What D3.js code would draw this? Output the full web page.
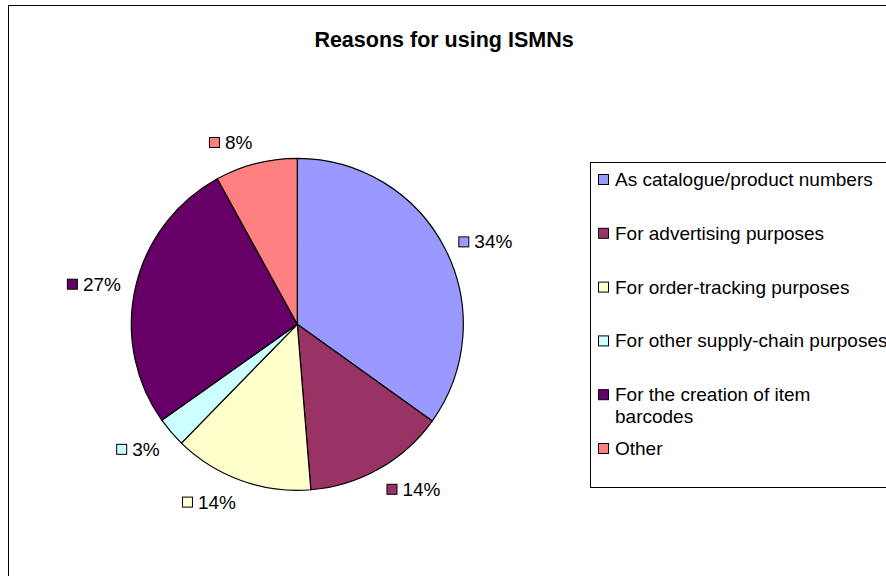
<!DOCTYPE html>
<html>
<head>
<meta charset="utf-8">
<script src="https://cdn.jsdelivr.net/npm/d3@7"></script>
<style>
  html, body { margin: 0; padding: 0; background: #fff; }
  svg { display: block; }
  text { font-family: "Liberation Sans", Arial, sans-serif; fill: #000; }
</style>
</head>
<body>
<svg id="chart" width="886" height="576"></svg>
<script>
// ---- data ----
const title = "Reasons for using ISMNs";
const categories = [
  "As catalogue/product numbers",
  "For advertising purposes",
  "For order-tracking purposes",
  "For other supply-chain purposes",
  "For the creation of item barcodes",
  "Other"
];
const legendLines = [
  ["As catalogue/product numbers"],
  ["For advertising purposes"],
  ["For order-tracking purposes"],
  ["For other supply-chain purposes"],
  ["For the creation of item", "barcodes"],
  ["Other"]
];
const values = [34.9, 13.8, 13.6, 2.9, 26.8, 8.0];
const percentLabels = ["34%", "14%", "14%", "3%", "27%", "8%"];
const colors = ["#9999FF", "#993366", "#FFFFCC", "#CCFFFF", "#660066", "#FF8080"];

// ---- layout ----
const W = 886, H = 576;
const cx = 297.3, cy = 324.3, R = 166;
const labelR = 181;
const fontSize = 19;

const svg = d3.select("#chart");
svg.append("rect").attr("width", W).attr("height", H).attr("fill", "#fff");

// outer chart border (extends beyond the visible area)
svg.append("rect")
  .attr("x", 8.5).attr("y", 5.5).attr("width", 1200).attr("height", 1200)
  .attr("fill", "none").attr("stroke", "#000").attr("stroke-width", 1);

// title
svg.append("text")
  .attr("x", 444).attr("y", 47)
  .attr("text-anchor", "middle")
  .style("font-size", "21.5px").style("font-weight", "bold")
  .text(title);

// pie
const pie = d3.pie().sort(null).value(d => d).startAngle(0).endAngle(2 * Math.PI);
const arcs = pie(values);
const arc = d3.arc().innerRadius(0).outerRadius(R);
const color = d3.scaleOrdinal().domain(categories).range(colors);

const g = svg.append("g").attr("transform", `translate(${cx},${cy})`);
g.selectAll("path.slice")
  .data(arcs)
  .join("path")
  .attr("class", "slice")
  .attr("d", arc)
  .attr("fill", (d, i) => color(categories[i]))
  .attr("stroke", "#000")
  .attr("stroke-width", 1.2)
  .attr("stroke-linejoin", "round");

// data labels (marker + percent)
const clamp = (v, a, b) => Math.max(a, Math.min(b, v));
const markerSize = 10, gap = 6;
arcs.forEach((d, i) => {
  const mid = (d.startAngle + d.endAngle) / 2;
  const s = Math.sin(mid), c = Math.cos(mid);
  const px = cx + labelR * s, py = cy - labelR * c;
  const lg = svg.append("g");
  const t = lg.append("text")
    .style("font-size", fontSize + "px")
    .text(percentLabels[i]);
  const tw = t.node().getComputedTextLength();
  const w = markerSize + gap + tw;
  const h = 14;
  const fx = clamp(s * 4, -1, 1);
  const fy = Math.sign(c) * clamp((Math.abs(c) - 0.45) * 5, 0, 1);
  const bcx = px + fx * w / 2;
  const bcy = py - fy * h / 2;
  const left = bcx - w / 2;
  lg.insert("rect", "text")
    .attr("x", left + 0.5).attr("y", bcy - markerSize / 2 + 0.5)
    .attr("width", markerSize).attr("height", markerSize)
    .attr("fill", color(categories[i]))
    .attr("stroke", "#000").attr("stroke-width", 1);
  t.attr("x", left + markerSize + gap).attr("y", bcy + 7);
});

// legend
svg.append("rect")
  .attr("x", 590.5).attr("y", 162.5).attr("width", 400).attr("height", 325)
  .attr("fill", "#fff").attr("stroke", "#000").attr("stroke-width", 1);

const legendY = d3.scaleLinear().domain([0, categories.length - 1]).range([179, 448]);
categories.forEach((cat, i) => {
  const yc = legendY(i);
  svg.append("rect")
    .attr("x", 598.5).attr("y", yc - 4.5)
    .attr("width", markerSize).attr("height", markerSize)
    .attr("fill", color(cat)).attr("stroke", "#000").attr("stroke-width", 1);
  const t = svg.append("text")
    .attr("x", 615).attr("y", yc + 7)
    .style("font-size", fontSize + "px");
  legendLines[i].forEach((ln, j) => {
    t.append("tspan").attr("x", 615).attr("dy", j === 0 ? 0 : 22).text(ln);
  });
});
</script>
</body>
</html>
